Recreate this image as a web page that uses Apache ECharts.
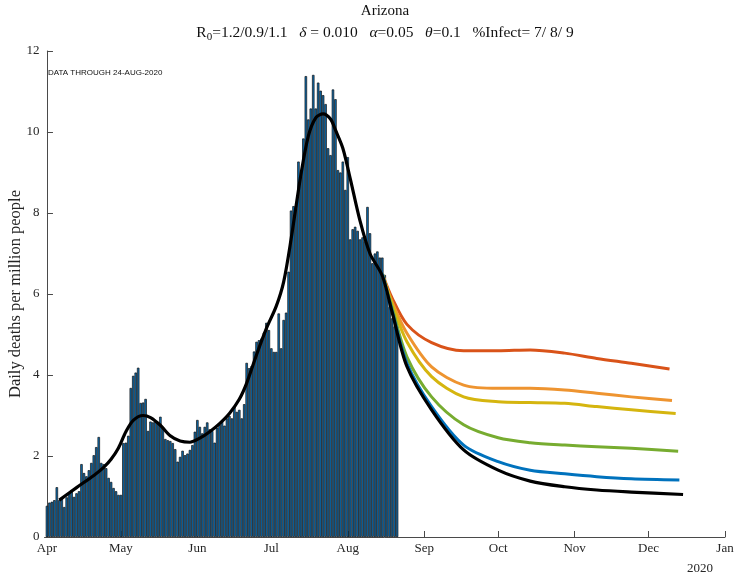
<!DOCTYPE html>
<html>
<head>
<meta charset="utf-8">
<script src="https://cdn.jsdelivr.net/npm/echarts@6/dist/echarts.min.js"></script>
<style>
  html, body { margin: 0; padding: 0; background: #fff; }
  #chart { width: 737px; height: 576px; }
</style>
</head>
<body>
<div id="chart"></div>
<script>
// Days counted from 1 April 2020 (day 0)
const monthDays = [0, 30, 61, 91, 122, 153, 183, 214, 244, 275];
const monthNames = ['Apr', 'May', 'Jun', 'Jul', 'Aug', 'Sep', 'Oct', 'Nov', 'Dec', 'Jan'];
const yTicks = [0, 2, 4, 6, 8, 10, 12];

// Reported daily deaths per million, one value per day starting 1 April
const deaths = [
  0.77, 0.85, 0.87, 0.91, 1.23, 0.91, 0.96, 0.74, 0.98, 1.10,
  1.16, 0.99, 1.08, 1.13, 1.80, 1.58, 1.50, 1.65, 1.83, 2.02,
  2.22, 2.47, 1.83, 1.80, 1.70, 1.46, 1.36, 1.21, 1.13, 1.04,
  1.04, 2.32, 2.33, 2.50, 3.68, 3.98, 4.06, 4.18, 3.31, 3.32,
  3.41, 2.62, 2.85, 2.83, 2.85, 2.83, 2.97, 2.72, 2.42, 2.39,
  2.37, 2.32, 2.17, 1.86, 1.98, 2.13, 2.02, 2.06, 2.15, 2.27,
  2.60, 2.89, 2.72, 2.56, 2.72, 2.83, 2.66, 2.62, 2.33, 2.70,
  2.77, 2.85, 2.75, 2.93, 2.99, 2.93, 3.23, 3.09, 3.14, 2.93,
  3.28, 4.30, 4.17, 4.22, 4.58, 4.82, 4.86, 4.90, 5.05, 5.29,
  5.11, 4.66, 4.57, 4.57, 5.52, 4.66, 5.36, 5.54, 6.55, 8.06,
  8.17, 8.10, 9.27, 8.90, 9.84, 11.38, 10.31, 10.58, 11.41, 10.58,
  11.22, 11.02, 10.91, 10.69, 9.60, 9.43, 11.05, 10.81, 9.06, 9.00,
  9.27, 8.57, 9.38, 7.35, 7.60, 7.66, 7.56, 7.35, 7.40, 7.30,
  8.15, 7.50, 6.76, 7.00, 7.05, 6.90, 6.90, 6.47, 6.10, 5.68,
  5.40, 5.20, 5.20
];

// Model fit through the data and on to the lowest scenario
const fitDays = [5, 12, 19, 23, 26, 29, 32, 35, 39, 42, 46, 50, 54, 58, 62, 66, 70, 74, 78, 81,
  85, 89, 93, 96, 99, 103, 106, 109, 112, 115, 117, 120, 123, 127, 131, 136, 140, 146, 156, 169,
  183, 196, 210, 223, 237, 258];
const fitValues = [0.91, 1.22, 1.52, 1.72, 1.92, 2.20, 2.60, 2.88, 3.00, 2.95, 2.76, 2.50, 2.37, 2.34, 2.44, 2.60, 2.80, 3.05, 3.40, 3.80,
  4.50, 5.15, 5.70, 6.30, 7.35, 8.95, 9.90, 10.35, 10.45, 10.32, 10.05, 9.60, 8.85, 7.80, 7.00, 6.45, 5.55, 4.21, 3.14, 2.15,
  1.65, 1.38, 1.24, 1.16, 1.11, 1.05];

// Projection scenarios
const projDays = [136, 140, 146, 156, 169, 183, 196, 210, 223, 237];
const projRed    = [6.50, 5.90, 5.25, 4.80, 4.60, 4.60, 4.62, 4.54, 4.41, 4.29, 4.15];
const projOrange = [6.50, 5.80, 5.03, 4.20, 3.75, 3.67, 3.67, 3.63, 3.55, 3.46, 3.37];
const projYellow = [6.50, 5.75, 4.82, 3.96, 3.46, 3.34, 3.32, 3.30, 3.22, 3.14, 3.05];
const projGreen  = [6.50, 5.65, 4.45, 3.46, 2.77, 2.45, 2.33, 2.27, 2.23, 2.19, 2.12];
const projBlue   = [6.50, 5.58, 4.29, 3.22, 2.27, 1.86, 1.65, 1.56, 1.49, 1.44, 1.41];
const projEndDays = { red: 252.5, orange: 253.5, yellow: 255, green: 256, blue: 256.5 };

const serif = 'Liberation Serif, DejaVu Serif, serif';
const axisColor = '#4a4a4a';
const textColor = '#262626';

function pairs(xs, ys) { return xs.map((x, i) => [x, ys[i]]); }
function projPairs(ys, endDay) { return pairs(projDays.concat([endDay]), ys); }

const chart = echarts.init(document.getElementById('chart'), null, { renderer: 'canvas' });

function curve(name, data, color, width, z) {
  return {
    name, type: 'line', data, showSymbol: false, smooth: 0.3,
    lineStyle: { color, width, cap: 'butt', join: 'round' }, z, silent: true, animation: false
  };
}

chart.setOption({
  animation: false,
  backgroundColor: '#fff',
  grid: { left: 44.5, right: 12, top: 51, bottom: 39, containLabel: false, outerBoundsMode: 'none' },
  xAxis: {
    type: 'value', min: -1, max: 275,
    axisLine: { show: true, lineStyle: { color: axisColor, width: 1 } },
    axisTick: { show: true, inside: true, length: 6, customValues: monthDays, lineStyle: { color: axisColor } },
    axisLabel: {
      customValues: monthDays, margin: 5, fontFamily: serif, fontSize: 13, color: textColor,
      formatter: v => monthNames[monthDays.indexOf(v)] || ''
    },
    splitLine: { show: false }
  },
  yAxis: {
    type: 'value', min: 0, max: 12, interval: 2,
    name: 'Daily deaths per million people', nameLocation: 'middle', nameGap: 20, nameRotate: 90,
    nameMoveOverlap: false,
    nameTextStyle: { fontFamily: serif, fontSize: 16.5, color: textColor },
    axisLine: { show: true, lineStyle: { color: axisColor, width: 1 } },
    axisTick: { show: true, inside: true, length: 6, lineStyle: { color: axisColor } },
    axisLabel: { margin: 5, fontFamily: serif, fontSize: 13, color: textColor },
    splitLine: { show: false }
  },
  graphic: [
    { type: 'text', x: 385, y: 4, style: { text: 'Arizona', fontFamily: serif, fontSize: 15, fill: '#111', textAlign: 'center' } },
    {
      type: 'text', x: 385, y: 22,
      style: {
        text: 'R{sub|0}=1.2/0.9/1.1   {it|δ} = 0.010   {it|α}=0.05   {it|θ}=0.1   %Infect= 7/ 8/ 9',
        fontFamily: serif, fontSize: 15.5, fill: '#111', textAlign: 'center',
        rich: {
          sub: { fontFamily: serif, fontSize: 11, fill: '#111', padding: [10, 0, 0, 0] },
          it: { fontFamily: serif, fontSize: 15.5, fontStyle: 'italic', fill: '#111' }
        }
      }
    },
    { type: 'text', x: 48, y: 69, style: { text: 'DATA THROUGH 24-AUG-2020', fontFamily: 'Liberation Sans, Arial, sans-serif', fontSize: 8, fill: '#111' } },
    { type: 'text', x: 700, y: 562, style: { text: '2020', fontFamily: serif, fontSize: 13, fill: textColor, textAlign: 'center' } }
  ],
  series: [
    {
      name: 'deaths', type: 'bar', data: deaths.map((v, i) => [i, v]), barWidth: '100%',
      itemStyle: { color: '#0b6cb0', borderColor: '#111', borderWidth: 0.7 }, z: 2, silent: true
    },
    curve('red', projPairs(projRed, projEndDays.red), '#D95319', 3, 3),
    curve('orange', projPairs(projOrange, projEndDays.orange), '#EE9430', 3, 3),
    curve('yellow', projPairs(projYellow, projEndDays.yellow), '#D5B50F', 3, 3),
    curve('green', projPairs(projGreen, projEndDays.green), '#77AC30', 3, 3),
    curve('blue', projPairs(projBlue, projEndDays.blue), '#0072BD', 3, 3),
    curve('fit', pairs(fitDays, fitValues), '#000', 3.2, 4)
  ]
});
</script>
</body>
</html>
